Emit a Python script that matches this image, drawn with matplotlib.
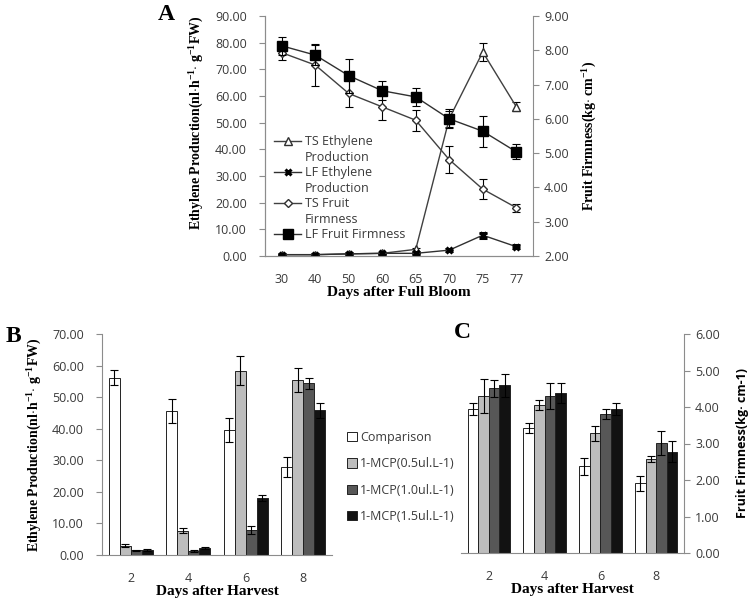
import matplotlib
matplotlib.use("Agg")
import numpy as np
import matplotlib.pyplot as plt
from matplotlib.lines import Line2D
from matplotlib.patches import Patch

plt.rcParams['mathtext.fontset'] = 'custom'
plt.rcParams['mathtext.rm'] = 'Liberation Serif:bold'
plt.rcParams['mathtext.bf'] = 'Liberation Serif:bold'

# panel A data
days_bloom = ["30", "40", "50", "60", "65", "70", "75", "77"]
ts_eth = [0.5, 0.5, 0.8, 1.0, 2.5, 51.5, 76.5, 56.0]
ts_eth_err = [0.3, 0.3, 0.3, 0.3, 0.5, 3.0, 3.5, 1.8]
lf_eth = [0.5, 0.5, 0.8, 1.0, 1.0, 2.2, 7.8, 3.5]
lf_eth_err = [0.3, 0.3, 0.3, 0.3, 0.3, 0.4, 1.0, 0.6]
ts_firm = [7.93, 7.57, 6.74, 6.35, 5.96, 4.81, 3.95, 3.41]
ts_firm_err = [0.2, 0.6, 0.38, 0.38, 0.3, 0.4, 0.3, 0.12]
lf_firm = [8.13, 7.86, 7.26, 6.82, 6.64, 6.00, 5.64, 5.04]
lf_firm_err = [0.27, 0.3, 0.5, 0.28, 0.27, 0.28, 0.45, 0.22]

# panels B and C data
days_harvest = ["2", "4", "6", "8"]
treatments = ["Comparison", "1-MCP(0.5ul.L-1)", "1-MCP(1.0ul.L-1)", "1-MCP(1.5ul.L-1)"]
eth_comp = [56.2, 45.6, 39.6, 27.8]
eth_05 = [3.0, 7.7, 58.3, 55.4]
eth_10 = [1.5, 1.3, 8.0, 54.4]
eth_15 = [1.7, 2.3, 18.0, 45.8]
eth_comp_err = [2.4, 3.8, 3.7, 3.2]
eth_05_err = [0.5, 0.7, 4.6, 3.7]
eth_10_err = [0.2, 0.3, 1.2, 1.7]
eth_15_err = [0.3, 0.3, 1.0, 2.5]
firm_comp = [3.95, 3.42, 2.37, 1.91]
firm_05 = [4.30, 4.06, 3.28, 2.57]
firm_10 = [4.51, 4.30, 3.80, 3.01]
firm_15 = [4.59, 4.39, 3.94, 2.78]
firm_comp_err = [0.17, 0.13, 0.24, 0.2]
firm_05_err = [0.47, 0.14, 0.2, 0.08]
firm_10_err = [0.23, 0.36, 0.14, 0.33]
firm_15_err = [0.32, 0.28, 0.17, 0.28]

bar_colors = ["white", "#bdbdbd", "#575757", "#121212"]
spine_c = "#8c8c8c"
tick_c = "#3a3a3a"
sans = "Open Sans"
serif = "Liberation Serif"
eth_label = r"Ethylene Production(nl$\cdot$h$^{\mathbf{-1}}$$\cdot$ g$^{\mathbf{-1}}$FW)"
tsize = 9

fig = plt.figure(figsize=(7.54, 6.02), dpi=100)


def style_ax(ax, sides):
    for s in ["left", "right", "top", "bottom"]:
        ax.spines[s].set_visible(s in sides)
        ax.spines[s].set_color(spine_c)
    ax.tick_params(axis="x", length=0, pad=12, labelsize=tsize, labelcolor=tick_c)
    for lab in ax.get_xticklabels() + ax.get_yticklabels():
        lab.set_family(sans)


# ---------- A ----------
axA = fig.add_axes([265/754, 1-256/602, 268/754, 240/602])
x = np.arange(len(days_bloom))
ekw = dict(ecolor="black", elinewidth=0.8, capsize=3, capthick=0.8)
axA.errorbar(x, ts_eth, yerr=ts_eth_err, color="#404040", lw=1, marker="^",
             ms=6, mfc="white", mec="#303030", zorder=3, **ekw)
axA.errorbar(x, lf_eth, yerr=lf_eth_err, color="#303030", lw=1, marker="x",
             ms=5, mew=2.2, mec="black", zorder=4, **ekw)
axA.set_ylim(0, 90)
axA.set_yticks(np.arange(0, 91, 10))
axA.set_yticklabels(["%.2f" % v for v in np.arange(0, 91, 10)])
axA.set_xlim(-0.5, len(x) - 0.5)
axA.set_xticks(x)
axA.set_xticklabels(days_bloom)
axA.tick_params(axis="y", direction="out", length=4, pad=9, color=spine_c,
                labelsize=tsize, labelcolor=tick_c)
style_ax(axA, ["left", "bottom"])
axA.set_ylabel(eth_label, family=serif, weight="bold", fontsize=10)
axA.yaxis.set_label_coords((205 - 265) / 268, 0.555)
axA.set_xlabel("Days after Full Bloom", family=serif, weight="bold",
               fontsize=11, labelpad=0)

axA2 = axA.twinx()
axA2.errorbar(x, ts_firm, yerr=ts_firm_err, color="#404040", lw=1, marker="D",
              ms=4.5, mfc="white", mec="#303030", zorder=3, **ekw)
axA2.errorbar(x, lf_firm, yerr=lf_firm_err, color="#303030", lw=1, marker="s",
              ms=6.5, mfc="black", mec="black", zorder=4, **ekw)
axA2.set_ylim(2, 9)
axA2.set_yticks(np.arange(2, 10, 1))
axA2.set_yticklabels(["%.2f" % v for v in np.arange(2, 10, 1)])
axA2.tick_params(axis="y", direction="out", length=4, pad=4, color=spine_c,
                 labelsize=tsize, labelcolor=tick_c)
style_ax(axA2, ["right", "left", "bottom"])
axA2.set_ylabel("Fruit Firmness(kg$\\cdot$ cm$^{\\mathbf{-1}}$)", fontsize=10,
                labelpad=7, family=serif, weight="bold")
for lab in axA2.get_yticklabels():
    lab.set_family(sans)

blank = Line2D([], [], color="none")
hA = [Line2D([], [], color="#404040", lw=1, marker="^", ms=6, mfc="white", mec="#303030"),
      blank,
      Line2D([], [], color="#303030", lw=1, marker="x", ms=5, mew=2.2, mec="black"),
      blank,
      Line2D([], [], color="#404040", lw=1, marker="D", ms=4.5, mfc="white", mec="#303030"),
      blank,
      Line2D([], [], color="#303030", lw=1, marker="s", ms=6.5, mfc="black", mec="black")]
lA = ["TS Ethylene", "Production", "LF Ethylene", "Production", "TS Fruit",
      "Firmness", "LF Fruit Firmness"]
legA = axA2.legend(hA, lA, loc="upper left", bbox_to_anchor=(0.0, 0.54),
                   frameon=False, labelspacing=0.2, handlelength=2.2,
                   handletextpad=0.3, borderaxespad=0.3,
                   prop={"family": sans, "size": 9})
for t in legA.get_texts():
    t.set_color(tick_c)
fig.text(166/754, 1-14/602, "A", family=serif, weight="bold", fontsize=17,
         ha="center", va="center")

# ---------- B ----------
w = 0.19
offs = (np.arange(4) - 1.5) * w
xb = np.arange(len(days_harvest))
axB = fig.add_axes([102/754, 1-555/602, 230/754, 221/602])
eth_sets = [eth_comp, eth_05, eth_10, eth_15]
eth_errs = [eth_comp_err, eth_05_err, eth_10_err, eth_15_err]
for i in range(4):
    axB.bar(xb + offs[i], eth_sets[i], w, color=bar_colors[i], edgecolor="#222222",
            lw=0.7, yerr=eth_errs[i], error_kw=dict(ecolor="black", elinewidth=0.8,
                                                     capsize=3, capthick=0.8))
axB.set_ylim(0, 70)
axB.set_yticks(np.arange(0, 71, 10))
axB.set_yticklabels(["%.2f" % v for v in np.arange(0, 71, 10)])
axB.set_xlim(-0.5, 3.5)
axB.set_xticks(xb)
axB.set_xticklabels(days_harvest)
axB.tick_params(axis="y", direction="out", length=4, pad=9, color=spine_c,
                labelsize=tsize, labelcolor=tick_c)
style_ax(axB, ["left", "bottom"])
axB.set_ylabel(eth_label, family=serif, weight="bold", fontsize=10)
axB.yaxis.set_label_coords((43 - 102) / 230, 0.5)
axB.set_xlabel("Days after Harvest", family=serif, weight="bold", fontsize=11,
               labelpad=0)
fig.text(13/754, 1-336/602, "B", family=serif, weight="bold", fontsize=17,
         ha="center", va="center")

# ---------- C ----------
axC = fig.add_axes([461/754, 1-553/602, 223/754, 219/602])
firm_sets = [firm_comp, firm_05, firm_10, firm_15]
firm_errs = [firm_comp_err, firm_05_err, firm_10_err, firm_15_err]
for i in range(4):
    axC.bar(xb + offs[i], firm_sets[i], w, color=bar_colors[i], edgecolor="#222222",
            lw=0.7, yerr=firm_errs[i], error_kw=dict(ecolor="black", elinewidth=0.8,
                                                      capsize=3, capthick=0.8))
axC.set_ylim(0, 6)
axC.set_yticks(np.arange(0, 7, 1))
axC.set_yticklabels(["%.2f" % v for v in np.arange(0, 7, 1)])
axC.set_xlim(-0.5, 3.5)
axC.set_xticks(xb)
axC.set_xticklabels(days_harvest)
axC.yaxis.tick_right()
axC.yaxis.set_label_position("right")
axC.tick_params(axis="y", direction="out", length=4, pad=4, color=spine_c,
                labelsize=tsize, labelcolor=tick_c)
style_ax(axC, ["right", "bottom"])
axC.set_ylabel("Fruit Firmness(kg· cm-1)", family=sans, weight="bold",
               fontsize=9)
axC.yaxis.set_label_coords((736 - 461) / 223, 0.5)
axC.set_xlabel("Days after Harvest", family=serif, weight="bold", fontsize=11,
               labelpad=0)
fig.text(462/754, 1-333/602, "C", family=serif, weight="bold", fontsize=17,
         ha="center", va="center")

# shared legend for B and C
hB = [Patch(facecolor=c, edgecolor="#222222", lw=0.7) for c in bar_colors]
legB = fig.legend(hB, treatments, loc="upper left",
                  bbox_to_anchor=(336/754, 1-420/602), frameon=False,
                  labelspacing=1.05, handlelength=0.75, handleheight=0.75,
                  handletextpad=0.3, prop={"family": sans, "size": 9})
for t in legB.get_texts():
    t.set_color(tick_c)

fig.savefig("out.png", dpi=100)
